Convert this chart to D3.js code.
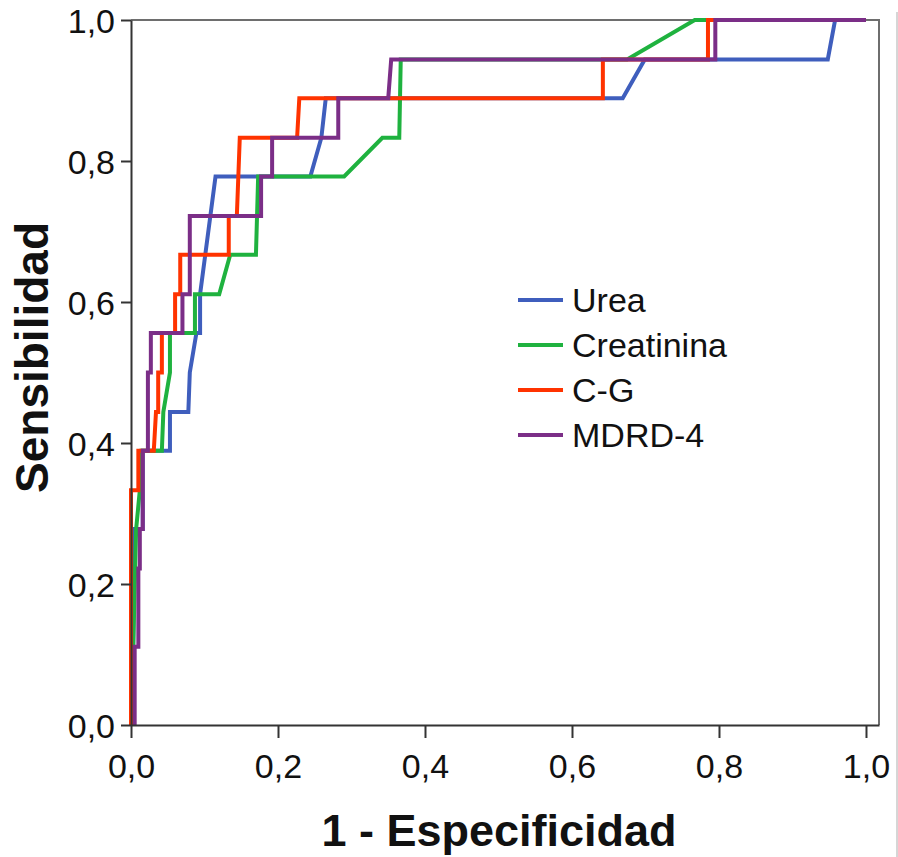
<!DOCTYPE html>
<html>
<head>
<meta charset="utf-8">
<script src="https://cdn.jsdelivr.net/npm/d3@7"></script>
<style>
  body { margin: 0; background: #fff; }
  text { font-family: "Liberation Sans", Arial, sans-serif; }
</style>
</head>
<body>
<svg id="roc" width="898" height="857"></svg>
<script>
// curves: [1 - especificidad, sensibilidad]
var categories = ["Urea", "Creatinina", "C-G", "MDRD-4"];
var colors = ["#3f5ebd", "#1fb23f", "#ff3300", "#7b2e87"];

var urea = [[0,0],[0.003,0.111],[0.005,0.278],[0.016,0.278],[0.016,0.389],[0.053,0.389],[0.053,0.444],
    [0.078,0.444],[0.080,0.5],[0.089,0.556],[0.094,0.556],[0.094,0.611],[0.115,0.778],[0.244,0.778],
    [0.259,0.833],[0.265,0.889],[0.669,0.889],[0.699,0.944],[0.948,0.944],[0.958,1],[1,1]];
var creatinina = [[0,0],[0.003,0.111],[0.007,0.278],[0.012,0.333],[0.014,0.389],[0.042,0.389],[0.044,0.444],
    [0.053,0.5],[0.053,0.556],[0.087,0.556],[0.087,0.611],[0.12,0.611],[0.135,0.667],[0.17,0.667],
    [0.173,0.778],[0.29,0.778],[0.342,0.833],[0.365,0.833],[0.367,0.944],[0.675,0.944],[0.767,1],[1,1]];
var cg = [[0,0],[0,0.333],[0.01,0.333],[0.01,0.389],[0.031,0.389],[0.034,0.444],[0.037,0.444],[0.037,0.5],
    [0.042,0.5],[0.042,0.556],[0.06,0.556],[0.06,0.611],[0.067,0.611],[0.067,0.667],[0.133,0.667],
    [0.133,0.722],[0.144,0.722],[0.148,0.833],[0.226,0.833],[0.229,0.889],[0.642,0.889],[0.642,0.944],
    [0.785,0.944],[0.785,1],[1,1]];
var mdrd = [[0.005,0],[0.005,0.111],[0.01,0.111],[0.01,0.222],[0.012,0.222],[0.012,0.278],[0.016,0.278],
    [0.016,0.389],[0.023,0.389],[0.023,0.5],[0.027,0.5],[0.027,0.556],[0.07,0.556],[0.07,0.611],
    [0.08,0.611],[0.08,0.722],[0.177,0.722],[0.177,0.778],[0.192,0.778],[0.192,0.833],[0.282,0.833],
    [0.282,0.889],[0.35,0.889],[0.354,0.944],[0.795,0.944],[0.795,1],[1,1]];

var tickValues = [0, 0.2, 0.4, 0.6, 0.8, 1.0];
var xTitle = "1 - Especificidad", yTitle = "Sensibilidad";

var svg = d3.select("#roc"),
    margin = {top: 20, right: 19, bottom: 132, left: 131},
    width = +svg.attr("width") - margin.left - margin.right,
    height = +svg.attr("height") - margin.top - margin.bottom;

var x = d3.scaleLinear().domain([0, 1.0177]).range([0, width]);
var y = d3.scaleLinear().domain([0, 1]).range([height, 0]);
var fmt = function (d) { return d3.format(".1f")(d).replace(".", ","); };

// faint border at the right edge of the picture
svg.append("line")
    .attr("x1", 897).attr("x2", 897).attr("y1", 12).attr("y2", 857)
    .attr("stroke", "#c8c8c8").attr("stroke-width", 1.5);

var g = svg.append("g")
    .attr("transform", "translate(" + margin.left + "," + margin.top + ")");

// top and right frame
g.append("path")
    .attr("d", "M0,0H" + width + "V" + height)
    .attr("fill", "none")
    .attr("stroke", "#6e6e6e")
    .attr("stroke-width", 2);

var line = d3.line()
    .x(function (d) { return x(d[0]); })
    .y(function (d) { return y(d[1]); });

var series = [urea, creatinina, cg, mdrd];
g.selectAll(".curve")
    .data(series)
    .enter().append("path")
    .attr("class", "curve")
    .attr("d", line)
    .attr("fill", "none")
    .attr("stroke", function (d, i) { return colors[i]; })
    .attr("stroke-width", 4)
    .attr("stroke-linejoin", "miter");

var xAxis = g.append("g")
    .attr("transform", "translate(0," + height + ")")
    .call(d3.axisBottom(x).tickValues(tickValues).tickFormat(fmt).tickSize(13).tickSizeOuter(0));
var yAxis = g.append("g")
    .call(d3.axisLeft(y).tickValues(tickValues).tickFormat(fmt).tickSize(10).tickSizeOuter(0));

[xAxis, yAxis].forEach(function (a) {
    a.select(".domain").attr("stroke", "#333").attr("stroke-width", 2);
    a.selectAll(".tick line").attr("stroke", "#333").attr("stroke-width", 2);
    a.selectAll(".tick text")
        .attr("fill", "#111")
        .style("font-family", "'Liberation Sans', Arial, sans-serif")
        .style("font-size", "34px");
});
xAxis.selectAll(".tick text").attr("dy", "0.75em").attr("y", 27);
yAxis.selectAll(".tick text").attr("x", -16).attr("dy", "0.36em");

g.append("text")
    .attr("x", width * 0.5 - 6)
    .attr("y", height + 121)
    .attr("text-anchor", "middle")
    .style("font-size", "45px")
    .style("font-weight", "bold")
    .attr("fill", "#111")
    .text(xTitle);

g.append("text")
    .attr("transform", "translate(" + (-83) + "," + (y(0.5) - 15) + ") rotate(-90)")
    .attr("text-anchor", "middle")
    .style("font-size", "46px")
    .style("font-weight", "bold")
    .attr("fill", "#111")
    .text(yTitle);

// legend
var legend = g.selectAll(".legend")
    .data(categories)
    .enter().append("g")
    .attr("class", "legend")
    .attr("transform", function (d, i) { return "translate(" + (518 - margin.left) + "," + (300 - margin.top + i * 45) + ")"; });
legend.append("line")
    .attr("x1", 0).attr("x2", 45)
    .attr("stroke", function (d, i) { return colors[i]; })
    .attr("stroke-width", 4);
legend.append("text")
    .attr("x", 54)
    .attr("dy", "0.36em")
    .style("font-size", "34px")
    .attr("fill", "#111")
    .text(function (d) { return d; });
</script>
</body>
</html>
